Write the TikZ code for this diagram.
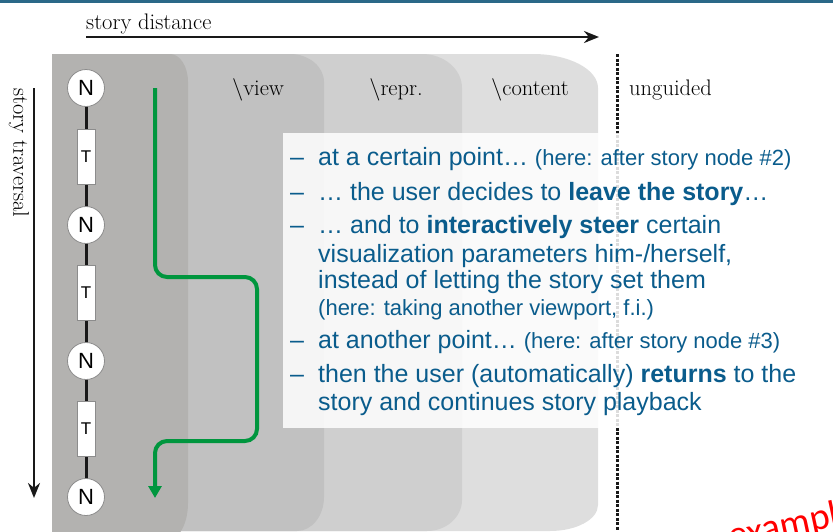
\documentclass[tikz,border=0pt]{standalone}
\usepackage{fontspec}
\usetikzlibrary{arrows.meta}
\newfontfamily\arialfont{Liberation Sans}
\newfontfamily\calibrifont{Carlito}
\definecolor{barblue}{RGB}{42,104,136}
\definecolor{txtblue}{RGB}{10,92,140}
\definecolor{pathgreen}{RGB}{0,150,62}
\definecolor{paneldark}{RGB}{179,178,176}
\definecolor{panelview}{RGB}{193,193,193}
\definecolor{panelrepr}{RGB}{207,207,207}
\definecolor{panelcontent}{RGB}{222,222,222}
\begin{document}
\begin{tikzpicture}[x=1pt,y=-1pt,
  seriflabel/.style={inner sep=0pt, font=\fontsize{22.5}{26}\selectfont, text=black},
  axisarrow/.style={line width=2.4pt, black!90, -{Stealth[length=15pt,width=12pt]}},
  storynode/.style={circle, draw=black!45, line width=0.8pt, fill=white, minimum size=37pt, inner sep=0pt, font=\arialfont\fontsize{22}{22}\selectfont},
  transnode/.style={rectangle, draw=black!45, line width=0.8pt, fill=white, minimum width=18pt, minimum height=55pt, inner sep=0pt, font=\arialfont\fontsize{17}{17}\selectfont},
  itemline/.style={anchor=base west, inner sep=0pt, text=txtblue, font=\arialfont\fontsize{25}{28}\selectfont},
  smalltxt/.style={font=\arialfont\fontsize{22}{26}\selectfont}
]
\useasboundingbox (0,0) rectangle (833,531);
\clip (0,0) rectangle (833,531);

% top rule
\fill[barblue] (0,0) rectangle (833,3);

% nested guidance panels
\fill[panelcontent] (52,54) -- (533,54) .. controls (568.9,54) and (598,69.2) .. (598,88)
  -- (598,505) .. controls (598,519.4) and (576.5,531) .. (550,531) -- (52,531) -- cycle;
\fill[panelrepr] (52,54) -- (422,54) .. controls (444.1,54) and (462,69.2) .. (462,88)
  -- (462,500) .. controls (462,517.1) and (446.3,531) .. (427,531) -- (52,531) -- cycle;
\fill[panelview] (52,54) -- (290,54) .. controls (308.8,54) and (324,66.5) .. (324,82)
  -- (324,497) .. controls (324,515.8) and (311.9,531) .. (297,531) -- (52,531) -- cycle;
\fill[paneldark] (52,54) -- (170,54) .. controls (180,54) and (188,66.5) .. (188,82)
  -- (188,503) .. controls (188,523.4) and (179,540) .. (168,540) -- (52,540) -- cycle;

% panel labels
\node[seriflabel, anchor=base] (lview) at (258,95) {\textbackslash view};
\node[seriflabel, anchor=base] (lrepr) at (396,95) {\textbackslash repr.};
\node[seriflabel, anchor=base] (lcontent) at (530,95) {\textbackslash content};
\node[seriflabel, anchor=base west] (lunguided) at (629,95) {unguided};

% boundary of the guided region
\coordinate (bordertop) at (617,54);
\coordinate (borderbot) at (617,531);
\draw[line width=3pt, black!90, dash pattern=on 3pt off 1.5pt] (bordertop) -- (borderbot);

% axes
\node[seriflabel, anchor=base west] (ldist) at (86,29) {story distance};
\coordinate (distA) at (86,37);
\coordinate (distB) at (599,37);
\draw[axisarrow] (distA) -- (distB);

\node[seriflabel, rotate=-90, anchor=west] (ltrav) at (19,88) {story traversal};
\coordinate (travA) at (34,88);
\coordinate (travB) at (34,498);
\draw[axisarrow] (travA) -- (travB);

% story chain
\draw[line width=3pt, black!90] (86,88) -- (86,497);
\node[storynode] (n1) at (86,88) {N};
\node[transnode] (t1) at (86,157) {T};
\node[storynode] (n2) at (86,225) {N};
\node[transnode] (t2) at (86,293) {T};
\node[storynode] (n3) at (86,361) {N};
\node[transnode] (t3) at (86,429) {T};
\node[storynode] (n4) at (86,497) {N};

% user path leaving and re-entering the story
\coordinate (gstart) at (155,88);
\coordinate (gend) at (155,498);
\draw[pathgreen, line width=4pt, rounded corners=12pt, -{Triangle[length=12pt,width=13pt]}]
  (gstart) -- (155,277) -- (257,277) -- (257,441) -- (155,441) -- (gend);

% explanation box
\fill[white, opacity=0.85] (283,133) rectangle (840,428);

\node[itemline] (d1) at (290,165) {–};
\node[itemline] (i1) at (318,165) {at a certain point… {\arialfont\fontsize{22}{26}\selectfont (here: after story node \#2)}};
\node[itemline] (d2) at (290,200) {–};
\node[itemline] (i2) at (318,200) {… the user decides to \textbf{leave the story}…};
\node[itemline] (d3) at (290,233) {–};
\node[itemline] (i3a) at (318,233) {… and to \textbf{interactively steer} certain};
\node[itemline] (i3b) at (318,262) {visualization parameters him-/herself,};
\node[itemline] (i3c) at (318,288) {instead of letting the story set them};
\node[itemline, smalltxt] (i3d) at (318,315) {(here: taking another viewport, f.i.)};
\node[itemline] (d4) at (290,348) {–};
\node[itemline] (i4) at (318,348) {at another point… {\arialfont\fontsize{22}{26}\selectfont (here: after story node \#3)}};
\node[itemline] (d5) at (290,382) {–};
\node[itemline] (i5a) at (318,382) {then the user (automatically) \textbf{returns} to the};
\node[itemline] (i5b) at (318,410) {story and continues story playback};

% stamp in the corner
\node[rotate=12, anchor=base west, inner sep=0pt, text=red, font=\calibrifont\fontsize{38}{42}\selectfont] (stamp) at (731,549) {example};
\end{tikzpicture}
\end{document}
